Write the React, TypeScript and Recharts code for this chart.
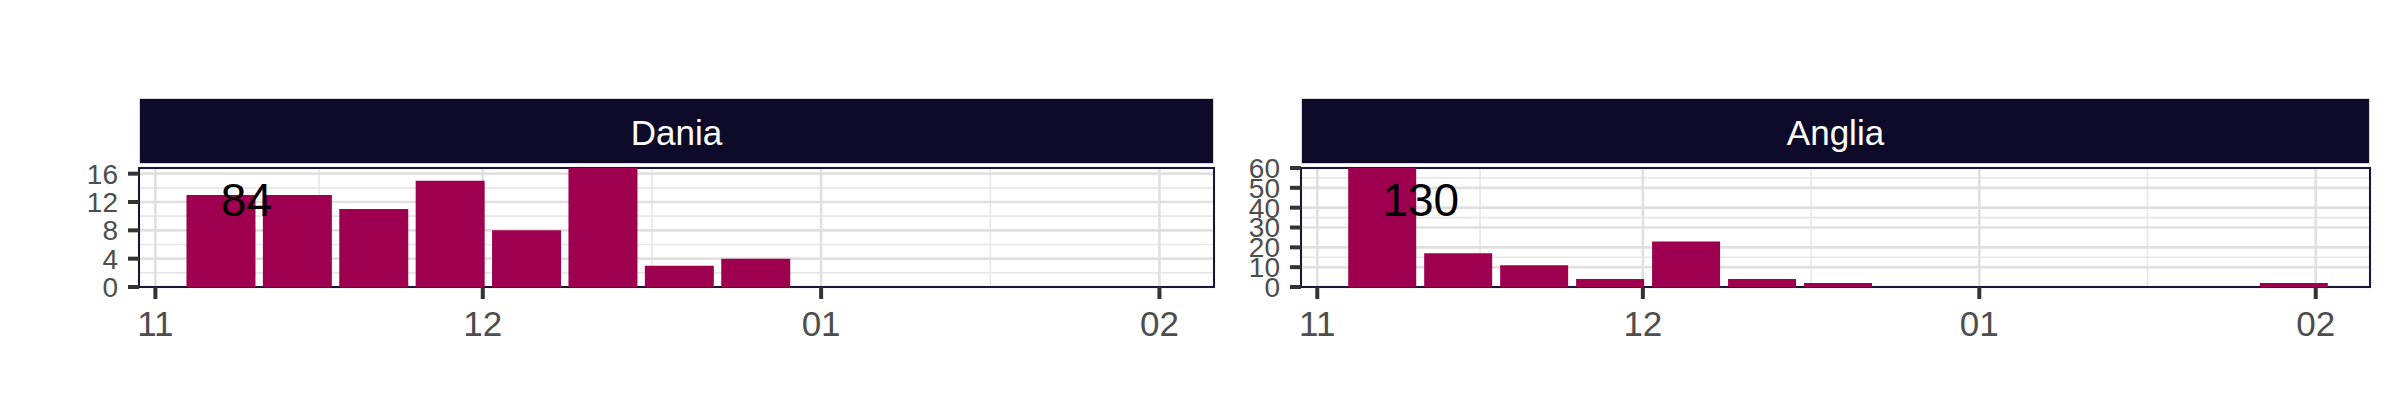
import { Bar, BarChart, CartesianGrid, ReferenceArea, ReferenceDot, XAxis, YAxis } from "recharts";

// week midpoints, in days after 1 Nov
const weekDays = [6, 13, 20, 27, 34, 41, 48, 55, 62, 69, 76, 83, 90];
const daniaCounts = [13, 13, 11, 15, 8, 17, 3, 4, 0, 0, 0, 0, 0];
const angliaCounts = [67, 17, 11, 4, 23, 4, 2, 0, 0, 0, 0, 0, 2];

const monthTicks = [0, 30, 61, 92];
const monthLabels = ["11", "12", "01", "02"];
const monthMinorTicks = [15, 45.5, 76.5];
const xDomain = [-1.5, 97];

const daniaYTicks = [0, 4, 8, 12, 16];
const daniaYMinor = [2, 6, 10, 14];
const daniaYMax = 16.8;
const angliaYTicks = [0, 10, 20, 30, 40, 50, 60];
const angliaYMinor = [5, 15, 25, 35, 45, 55];
const angliaYMax = 60;

const BAR = "#9E004F";
const NAVY = "#0E0B2A";

type PanelProps = {
  title: string;
  counts: number[];
  yTicks: number[];
  yMinor: number[];
  yMax: number;
  left: number;
  width: number;
  margin: { top: number; right: number; bottom: number; left: number };
  stripLeft: number;
  stripWidth: number;
};

function Panel({ title, counts, yTicks, yMinor, yMax, left, width, margin, stripLeft, stripWidth }: PanelProps) {
  const data = weekDays.map((day, i) => ({ day, count: counts[i] }));
  const total = counts.reduce((a, b) => a + b, 0);
  return (
    <>
      <div
        style={{
          position: "absolute",
          left: stripLeft,
          top: 98,
          width: stripWidth,
          height: 66,
          paddingTop: 4,
          background: NAVY,
          border: "1px solid #d9d9d9",
          boxSizing: "border-box",
          color: "#fff",
          fontSize: 35,
          display: "flex",
          alignItems: "center",
          justifyContent: "center",
        }}
      >
        {title}
      </div>
      <div style={{ position: "absolute", left, top: 0 }}>
        <BarChart width={width} height={420} data={data} margin={margin} barCategoryGap="5%">
          <XAxis xAxisId="minor" dataKey="day" type="number" domain={xDomain} ticks={monthMinorTicks} hide />
          <YAxis yAxisId="minor" type="number" domain={[0, yMax]} ticks={yMinor} allowDataOverflow hide />
          <CartesianGrid xAxisId="minor" yAxisId="minor" stroke="#E7E7E7" strokeWidth={1.6} />
          <CartesianGrid stroke="#E0E0E0" strokeWidth={2.6} />
          <XAxis
            dataKey="day"
            type="number"
            domain={xDomain}
            ticks={monthTicks}
            tickFormatter={(v) => monthLabels[monthTicks.indexOf(v)]}
            interval={0}
            axisLine={false}
            tickSize={12}
            tickMargin={12}
            height={60}
            tickLine={{ stroke: "#333", strokeWidth: 4 }}
            tick={{ fill: "#4D4D4D", fontSize: 35 }}
          />
          <YAxis
            type="number"
            domain={[0, yMax]}
            ticks={yTicks}
            allowDataOverflow
            interval={0}
            axisLine={false}
            tickSize={11}
            tickMargin={10}
            width={60}
            tickLine={{ stroke: "#333", strokeWidth: 4 }}
            tick={{ fill: "#4D4D4D", fontSize: 28 }}
          />
          <Bar dataKey="count" fill={BAR} isAnimationActive={false} />
          <ReferenceArea x1={xDomain[0]} x2={xDomain[1]} y1={0} y2={yMax} fill="none" stroke="#1B1537" strokeWidth={2} />
          <ReferenceDot
            x={weekDays[0]}
            y={yMax * 0.73}
            r={0}
            stroke="none"
            label={{ value: String(total), position: "right", offset: 0, fontSize: 46, fill: "#000" }}
          />
        </BarChart>
      </div>
    </>
  );
}

export default function App() {
  return (
    <div
      style={{
        position: "absolute",
        left: 0,
        top: 0,
        width: 2400,
        height: 420,
        background: "#fff",
        fontFamily: "'Liberation Sans', Arial, sans-serif",
      }}
    >
      <Panel
        title="Dania"
        counts={daniaCounts}
        yTicks={daniaYTicks}
        yMinor={daniaYMinor}
        yMax={daniaYMax}
        left={0}
        width={1230}
        margin={{ top: 168, right: 16, bottom: 73, left: 79 }}
        stripLeft={139}
        stripWidth={1075}
      />
      <Panel
        title="Anglia"
        counts={angliaCounts}
        yTicks={angliaYTicks}
        yMinor={angliaYMinor}
        yMax={angliaYMax}
        left={1230}
        width={1170}
        margin={{ top: 168, right: 30, bottom: 73, left: 11 }}
        stripLeft={1301}
        stripWidth={1069}
      />
    </div>
  );
}
